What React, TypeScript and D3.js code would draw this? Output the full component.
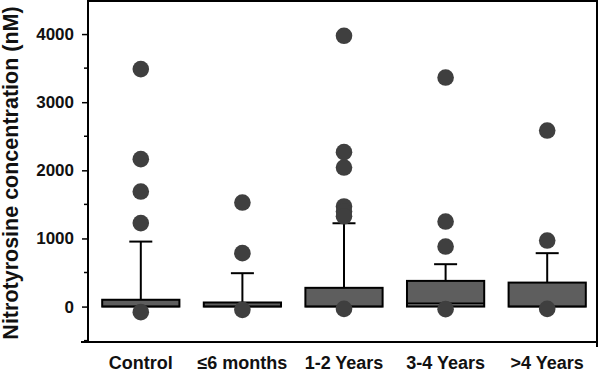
import React, { useEffect, useRef } from "react";
import * as d3 from "d3";

// box plot of nitrotyrosine by group

const categories = ["Control", "≤6 months", "1-2 Years", "3-4 Years", ">4 Years"];
const q1 = [0, 0, 0, 0, 0];
const medians = [0, 0, 0, 50, 0];
const q3 = [100, 60, 275, 377, 352];
const whiskerTop = [954, 490, 1223, 622, 784];
const outliers = [
  [3486, 2164, 1689, 1225, -82],
  [1527, 784, -48],
  [3975, 2267, 2041, 1470, 1395, 1325, -34],
  [3362, 1248, 881, -38],
  [2584, 969, -34],
];
const majorTicks = [0, 1000, 2000, 3000, 4000];
const minorTicks = [-500, 500, 1500, 2500, 3500];

const W = 600;
const H = 372;

export default function App() {
  const svgRef = useRef<SVGSVGElement | null>(null);

  useEffect(() => {
    const svg = d3.select(svgRef.current);
    svg.selectAll("*").remove();

    const left = 88;
    const right = 597;
    const top = 1;
    const bottom = 342;
    const font = "'Liberation Sans', Arial, sans-serif";

    const y = d3.scaleLinear().domain([-520, 4500]).range([bottom, 0]);
    const x = d3.scaleBand<string>().domain(categories).range([90, 598]).padding(0);
    const boxW = x.bandwidth() * 0.76;
    const capW = 23;

    // frame
    svg.append("line").attr("x1", left).attr("x2", right).attr("y1", top).attr("y2", top)
      .attr("stroke", "#000").attr("stroke-width", 2);
    svg.append("line").attr("x1", right).attr("x2", right).attr("y1", 0).attr("y2", 347)
      .attr("stroke", "#000").attr("stroke-width", 2);
    svg.append("line").attr("x1", left - 7).attr("x2", right).attr("y1", bottom).attr("y2", bottom)
      .attr("stroke", "#000").attr("stroke-width", 2);

    // y axis
    const yAxis = svg.append("g").attr("transform", `translate(${left},0)`);
    yAxis.call(
      d3.axisLeft(y).tickValues(majorTicks).tickFormat(d3.format("d")).tickSize(6).tickSizeOuter(0)
    );
    yAxis.select(".domain").attr("d", `M0,0V${bottom}`).attr("stroke-width", 2);
    yAxis.selectAll(".tick line").attr("stroke-width", 1.5);
    yAxis.selectAll(".tick text")
      .attr("x", -14)
      .attr("font-family", font)
      .attr("font-weight", "bold")
      .attr("font-size", 17)
      .attr("fill", "#111");
    yAxis.selectAll(".minor")
      .data(minorTicks)
      .join("line")
      .attr("class", "minor")
      .attr("x1", -4).attr("x2", 0)
      .attr("y1", (d) => y(d)).attr("y2", (d) => y(d))
      .attr("stroke", "#000").attr("stroke-width", 1.5);

    svg.append("text")
      .attr("transform", `translate(18,${(bottom + 4) / 2}) rotate(-90)`)
      .attr("text-anchor", "middle")
      .attr("font-family", font)
      .attr("font-weight", "bold")
      .attr("font-size", 21.5)
      .attr("fill", "#111")
      .text("Nitrotyrosine concentration (nM)");

    // x labels
    svg.append("g")
      .selectAll("text")
      .data(categories)
      .join("text")
      .attr("x", (d) => (x(d) ?? 0) + x.bandwidth() / 2)
      .attr("y", 369)
      .attr("text-anchor", "middle")
      .attr("font-family", font)
      .attr("font-weight", "bold")
      .attr("font-size", 18)
      .attr("fill", "#111")
      .text((d) => d);

    const groups = svg.append("g")
      .selectAll("g")
      .data(categories)
      .join("g")
      .attr("transform", (d) => `translate(${(x(d) ?? 0) + x.bandwidth() / 2},0)`);

    // whiskers
    groups.append("line")
      .attr("x1", 0).attr("x2", 0)
      .attr("y1", (_, i) => y(q3[i])).attr("y2", (_, i) => y(whiskerTop[i]))
      .attr("stroke", "#000").attr("stroke-width", 2);
    groups.append("line")
      .attr("x1", -capW / 2).attr("x2", capW / 2)
      .attr("y1", (_, i) => y(whiskerTop[i])).attr("y2", (_, i) => y(whiskerTop[i]))
      .attr("stroke", "#000").attr("stroke-width", 2);

    // boxes
    groups.append("rect")
      .attr("x", -boxW / 2)
      .attr("width", boxW)
      .attr("y", (_, i) => y(q3[i]))
      .attr("height", (_, i) => y(q1[i]) - y(q3[i]))
      .attr("fill", "#5e5e5e")
      .attr("stroke", "#000")
      .attr("stroke-width", 2);
    groups.append("line")
      .attr("x1", -boxW / 2).attr("x2", boxW / 2)
      .attr("y1", (_, i) => y(medians[i])).attr("y2", (_, i) => y(medians[i]))
      .attr("stroke", "#000").attr("stroke-width", 1.5);

    // outlier dots
    groups.selectAll("circle")
      .data((_, i) => outliers[i])
      .join("circle")
      .attr("cx", 0)
      .attr("cy", (d) => y(d))
      .attr("r", 8.3)
      .attr("fill", "#3f3f3f");
  }, []);

  return (
    <svg
      ref={svgRef}
      width={W}
      height={H}
      style={{ position: "absolute", left: 0, top: 0, background: "#fff" }}
    />
  );
}
